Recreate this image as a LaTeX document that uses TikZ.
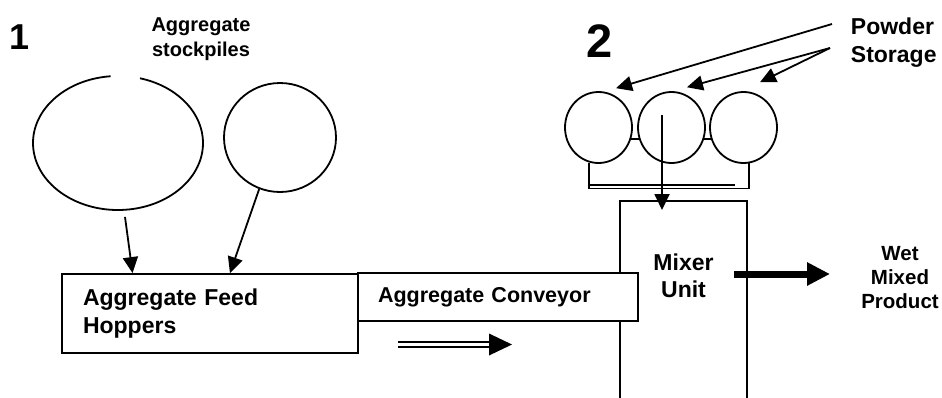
\documentclass[tikz,border=0pt]{standalone}
\usepackage{fontspec}
\setmainfont{Liberation Sans}
\usetikzlibrary{shapes.geometric,arrows.meta,calc}

\begin{document}
\begin{tikzpicture}[x=1pt,y=-1pt,line width=1.8pt]
\tikzstyle{every node}=[inner sep=0pt, font=\bfseries]
\tikzstyle{tank}=[ellipse, draw, minimum width=67pt, minimum height=71pt]
\tikzstyle{pile}=[ellipse]
\tikzstyle{unit}=[rectangle, draw, fill=white, align=left]
\tikzstyle{feed}=[-{Triangle[length=16pt,width=15pt]}]
\useasboundingbox (0,0) rectangle (942,397);
% stage 1
\node[font=\bfseries\fontsize{36}{40}\selectfont, anchor=base] (one) at (20,49) {1};
\node[font=\bfseries\fontsize{20}{25}\selectfont, align=center] (piles) at (201,39.3) {Aggregate\\stockpiles};
\node[pile, minimum width=170pt, minimum height=134pt] (pileA) at (118,143) {};
\draw ($(pileA.center)+(95:85pt and 67pt)$) arc[start angle=95, end angle=435, x radius=85pt, y radius=67pt];
\node[pile, draw, minimum width=112pt, minimum height=109pt] (pileB) at (280,137.5) {};
\node[unit, minimum width=296pt, minimum height=79pt, text width=254pt,
      font=\bfseries\fontsize{23}{28}\selectfont] (hopper) at (210,313.5) {Aggregate Feed\\Hoppers};
\draw[feed] ([shift={(7pt,-6pt)}]pileA.south) -- ($(hopper.north west)!0.24!(hopper.north east)$);
\draw[feed] (pileB.248) -- ($(hopper.north west)!0.567!(hopper.north east)$);
% stage 2
\node[font=\bfseries\fontsize{47}{50}\selectfont, anchor=base] (two) at (599.5,57) {2};
\node[font=\bfseries\fontsize{23}{28}\selectfont, align=left, anchor=west] (powder) at (850,43) {Powder\\Storage};
\foreach \n/\x in {1/598.5,2/671.5,3/743.5}{\node[tank] (tank\n) at (\x,127.5) {};}
\draw (tank1.-20) -- (tank2.200);
\draw (tank2.-20) -- (tank3.200);
\draw (tank1.255) -- ++(0,26) -| (tank3.279);
\draw ($(tank1.255)+(0,22.3)$) -- ++(146,0);
\coordinate (pw1) at (832,24);
\coordinate (pw2) at (830,48);
\draw[feed] (pw1) -- ([shift={(66:7pt)}]tank1.66);
\draw[feed] (pw2) -- ([shift={(69:7pt)}]tank2.69);
\draw[feed] (pw2) -- ([shift={(70:12pt)}]tank3.70);
\node[minimum width=125pt, minimum height=205pt, anchor=north] (mixer) at (683.5,201) {};
\draw (mixer.south west) -- (mixer.north west) -- (mixer.north east) -- (mixer.south east);
\node[font=\bfseries\fontsize{23}{27}\selectfont, align=center] (mixlbl) at (683.5,276) {Mixer\\Unit};
\coordinate (drop) at (662,115);
\draw[feed] (drop) -- ([yshift=-9pt]drop |- mixer.north);
\node[unit, minimum width=280pt, minimum height=48pt, text width=240pt,
      font=\bfseries\fontsize{21.5}{25}\selectfont] (conveyor) at (498,297) {Aggregate Conveyor};
\coordinate (slideA) at (398,344.5);
\coordinate (slideB) at (512,344.5);
\draw[double, double distance=3.6pt, line width=1.4pt] (slideA) -- ($(slideB)+(-22,0)$);
\fill (slideB) -- ++(-23,-11) -- ++(0,22) -- cycle;
\node[font=\bfseries\fontsize{20.5}{24}\selectfont, align=center] (product) at (900,278) {Wet\\Mixed\\Product};
\coordinate (outA) at (734,274);
\coordinate (outB) at (830,274);
\draw[line width=7pt, -{Triangle[length=23pt,width=22pt]}] (outA) -- (outB);
\end{tikzpicture}
\end{document}
